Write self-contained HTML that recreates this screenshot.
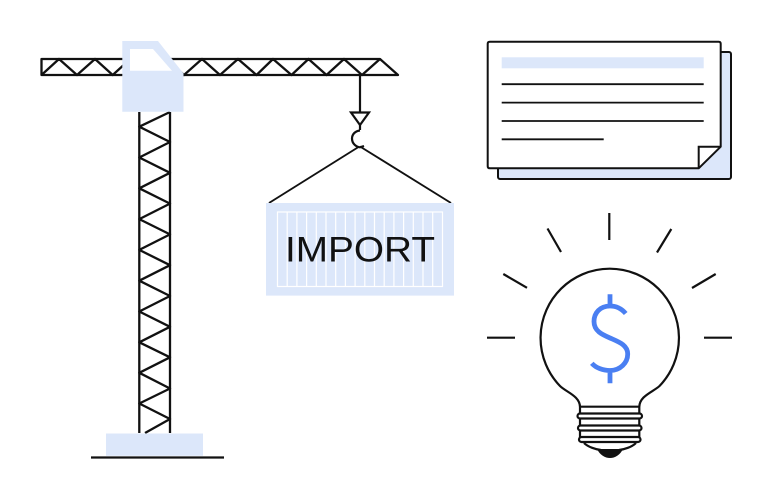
<!DOCTYPE html>
<html><head><meta charset="utf-8"><style>html,body{margin:0;padding:0;background:#fff}svg{display:block}</style></head>
<body>
<svg width="773" height="500" viewBox="0 0 773 500" xmlns="http://www.w3.org/2000/svg">
<rect width="773" height="500" fill="#fff"/>
<g fill="none" stroke="#111" stroke-width="2.300" stroke-linejoin="round">
<!-- jib -->
<path d="M380 59H41.500V75H398Z"/>
<path d="M41.500 75L59 59L77 75L95 59L112.700 75L130.300 59L148 75L166 59L184 75L202 59L220 75L238 59L256.500 75L273 59L291.500 75L308.500 59L326.500 75L344 59L362 75L380 59"/>
<!-- tower -->
<path d="M139.300 112V433M170 112V433"/>
<path d="M170 112L139.300 126.700L170 142L139.300 157.500L170 172.800L139.300 188.300L170 203.600L139.300 219.100L170 234.400L139.300 249.900L170 265.200L139.300 280.700L170 296L139.300 311.500L170 326.800L139.300 342.300L170 357.300L139.300 372.800L170 388.500L139.300 403.500L170 419L145 433"/>
</g>
<!-- cab -->
<path d="M122.300 41H158L183.500 73.500V111.700H122.300Z" fill="#dce7fa"/>
<path d="M130 49H153L172 70.700H130Z" fill="#fff"/>
<!-- base -->
<rect x="106" y="433.500" width="97" height="22.300" fill="#dce7fa"/>
<path d="M91 457.500H224" stroke="#111" stroke-width="2.200" fill="none"/>
<!-- hook -->
<g fill="none" stroke="#111" stroke-width="2.200">
<path d="M360 75V112.500"/>
<path d="M351 112.500H369L360 125Z"/>
<path d="M360 125V130"/>
<path d="M360 130.500C355 131 352 134.500 352 138.500C352 143.500 356 147 360 147.300L364 146"/>
<path d="M269 203L358.500 147M360 146.500L451 203" stroke-width="1.900"/>
</g>
<!-- container -->
<rect x="266" y="203" width="188" height="92.600" fill="#dce7fa"/>
<g fill="none" stroke="#fff" stroke-width="1.200">
<rect x="277.500" y="212" width="165" height="74.500"/>
<path d="M287.200 212V286.500M296.900 212V286.500M306.600 212V286.500M316.300 212V286.500M326 212V286.500M335.700 212V286.500M345.400 212V286.500M355.100 212V286.500M364.800 212V286.500M374.500 212V286.500M384.200 212V286.500M393.900 212V286.500M403.600 212V286.500M413.300 212V286.500M423 212V286.500M432.700 212V286.500"/>
</g>
<text x="285" y="261.700" font-family="'Liberation Sans',sans-serif" font-size="35.500" fill="#111" textLength="150" lengthAdjust="spacingAndGlyphs">IMPORT</text>
<!-- document -->
<rect x="498" y="52" width="233" height="127" rx="2" fill="#dce7fa" stroke="#111" stroke-width="2"/>
<path d="M489.700 41.700H718.700Q720.700 41.700 720.700 43.700V146.700L698.700 168.300H489.700Q487.700 168.300 487.700 166.300V43.700Q487.700 41.700 489.700 41.700Z" fill="#fff" stroke="#111" stroke-width="2" stroke-linejoin="round"/>
<path d="M720.700 146.700H698.700V168.300" fill="none" stroke="#111" stroke-width="2"/>
<rect x="501.700" y="57.300" width="202" height="11" fill="#dce7fa"/>
<path d="M501.700 84.200H703.700M501.700 102.600H703.700M501.700 121H703.700M501.700 139.300H603.700" stroke="#111" stroke-width="1.800" fill="none"/>
<!-- bulb -->
<g fill="none" stroke="#111" stroke-width="2.200">
<path d="M580 407C580 396 566 392 560 386A69.200 69.200 0 1 1 659.500 386C653 392 639.300 396 639.300 407"/>
<path d="M580 406.700H639.300"/>
<path d="M580 407V440M639.300 407V440"/>
<path d="M609.300 213V240M487 337.700H515M704 337.700H732M503.300 274L527 287.800M715.700 274L692 288M547.500 228.500L561 252M671.300 229L657 252.500"/>
</g>
<g fill="#fff" stroke="#111" stroke-width="2.200">
<rect x="577.500" y="413.500" width="64.500" height="5" rx="2.500"/>
<rect x="578" y="425.500" width="63.500" height="5" rx="2.500"/>
<rect x="579" y="437" width="61.500" height="5" rx="2.500"/>
</g>
<path d="M584 443C588 447 596 449.500 601 450M619 450C624 449.500 632 447 636 443" fill="none" stroke="#111" stroke-width="2.200"/>
<path d="M597 449H623C620 455 615 458 610 458C605 458 600 455 597 449Z" fill="#111"/>
<!-- dollar -->
<path d="M625.700 313.500C621 308 615 306 610 306C600 306 594 313 594 321.500C594 331 602 334.500 610 338C619 342 627.700 345 627.700 354C627.700 363 620 370.500 610 370.500C603 370.500 596 368 591.800 363.300M610 294.300V306M610 370.500V383.300" fill="none" stroke="#4a7ff2" stroke-width="4.800"/>
</svg>
</body></html>
